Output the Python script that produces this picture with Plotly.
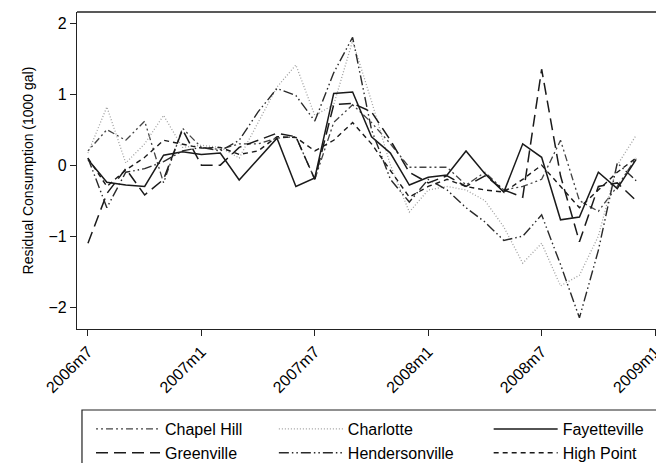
import plotly.graph_objects as go

months = [f"{y}m{m}" for y, m in [(2006, m) for m in range(7, 13)] + [(2007, m) for m in range(1, 13)] + [(2008, m) for m in range(1, 13)]]

chapel_hill = [0.2, 0.5, 0.35, 0.62, -0.25, 0.52, 0.25, 0.22, 0.3, 0.3, 0.38, 0.4, -0.2, 0.6, 0.85, 0.6, 0.3, -0.03, -0.03, -0.03, -0.28, -0.1, -0.35, -0.3, -0.2, 0.35, -0.5, -0.65, -0.3, 0.1]
charlotte = [0.17, 0.82, 0.03, 0.3, 0.7, 0.25, 0.28, 0.25, 0.1, 0.6, 1.1, 1.41, 0.7, 0.85, 1.75, 0.9, 0.0, -0.66, -0.35, -0.3, -0.35, -0.5, -0.87, -1.38, -1.1, -1.7, -1.55, -1.0, 0.0, 0.42]
fayetteville = [0.08, -0.24, -0.28, -0.3, 0.14, 0.19, 0.15, 0.17, -0.21, 0.08, 0.38, -0.3, -0.18, 1.01, 1.03, 0.4, 0.17, -0.28, -0.17, -0.14, 0.2, -0.12, -0.38, 0.3, 0.11, -0.77, -0.73, -0.1, -0.33, 0.08]
greenville = [-1.1, -0.4, -0.05, -0.42, -0.2, 0.5, 0.0, 0.0, 0.25, 0.35, 0.45, 0.4, -0.2, 0.85, 0.87, 0.75, 0.35, -0.1, -0.25, -0.15, -0.3, -0.15, -0.35, -0.45, 1.35, -0.15, -1.08, -0.3, -0.25, -0.5]
hendersonville = [0.1, -0.6, -0.1, -0.05, 0.05, 0.2, 0.25, 0.2, 0.35, 0.75, 1.08, 0.98, 0.62, 1.3, 1.8, 0.5, -0.2, -0.52, -0.2, -0.35, -0.6, -0.8, -1.06, -1.0, -0.7, -1.4, -2.15, -1.2, 0.03, -0.22]
high_point = [0.1, -0.3, -0.07, 0.11, 0.35, 0.3, 0.24, 0.25, 0.15, 0.2, 0.4, 0.39, 0.2, 0.35, 0.6, 0.3, -0.07, -0.45, -0.3, -0.2, -0.3, -0.35, -0.38, -0.2, 0.0, -0.3, -0.6, -0.35, -0.1, 0.1]

tick_labels = ["2006m7", "2007m1", "2007m7", "2008m1", "2008m7", "2009m1"]
y_ticks = [-2, -1, 0, 1, 2]

def month_index(lbl):
    y, m = lbl.split("m")
    return (int(y) - 2006) * 12 + int(m) - 7

x = list(range(len(months)))

# name, values, colour, dash, width, legend column
series = [
    ("Chapel Hill", chapel_hill, "#444444", "2px,3px,2px,3px,7px,3px", 1.3, "legend"),
    ("Charlotte", charlotte, "#a0a0a0", "1px,2px", 1.3, "legend2"),
    ("Fayetteville", fayetteville, "#1a1a1a", "solid", 1.5, "legend3"),
    ("Greenville", greenville, "#1a1a1a", "12px,6px", 1.5, "legend"),
    ("Hendersonville", hendersonville, "#2a2a2a", "10px,3px,1.5px,3px,1.5px,3px", 1.4, "legend2"),
    ("High Point", high_point, "#1a1a1a", "5px,4px", 1.4, "legend3"),
]

fig = go.Figure()
for name, vals, color, dash, w, lg in series:
    fig.add_trace(go.Scatter(x=x, y=vals, mode="lines", name=name, legend=lg,
                             line=dict(color=color, dash=dash, width=w),
                             hovertext=months))

font_family = "Liberation Sans, Arial, sans-serif"
leg_common = dict(orientation="v", xanchor="left", y=-0.262, yanchor="top",
                  borderwidth=0, font=dict(size=16), itemwidth=64,
                  tracegroupgap=0, traceorder="normal", bgcolor="rgba(0,0,0,0)")

fig.update_layout(
    width=656, height=463,
    margin=dict(l=77, r=0, t=12, b=134, autoexpand=False),
    paper_bgcolor="white", plot_bgcolor="white",
    font=dict(family=font_family, color="black"),
    showlegend=True,
    legend=dict(x=0.0242, **leg_common),
    legend2=dict(x=0.340, **leg_common),
    legend3=dict(x=0.711, **leg_common),
    xaxis=dict(range=[-0.58, 30.05], tickvals=[month_index(t) for t in tick_labels],
               ticktext=tick_labels, tickangle=-45, ticks="outside", ticklen=6,
               tickcolor="#222", showline=True, linecolor="#222", linewidth=1.3,
               showgrid=False, zeroline=False, tickfont=dict(size=16),
               automargin=False, ticklabeloverflow="allow"),
    yaxis=dict(range=[-2.307, 2.156], tickvals=y_ticks, ticks="outside", ticklen=6,
               tickcolor="#222", showline=True, linecolor="#222", linewidth=1.3,
               showgrid=False, zeroline=False, tickfont=dict(size=16), automargin=False,
               title=dict(text="Residual Consumption (1000 gal)", font=dict(size=14), standoff=11)),
    shapes=[
        dict(type="line", xref="paper", yref="paper", x0=0, x1=1.02, y0=1, y1=1,
             line=dict(color="#222", width=1.3)),
        dict(type="rect", xref="paper", yref="paper", x0=0.0086, x1=1.05, y0=-0.2555, y1=-0.6,
             line=dict(color="#222", width=1.2)),
    ],
)

fig.write_html("out.html", config={"displayModeBar": False},
               post_script="document.body.style.margin='0px';")
